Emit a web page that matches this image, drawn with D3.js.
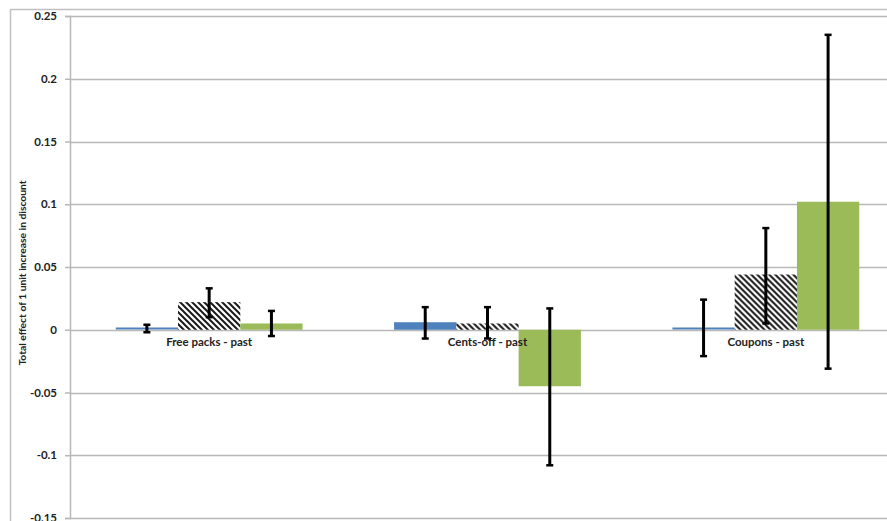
<!DOCTYPE html>
<html>
<head>
<meta charset="utf-8">
<script src="https://cdn.jsdelivr.net/npm/d3@7"></script>
<style>
  body { margin: 0; background: #fff; overflow: hidden; }
  svg { display: block; font-family: Lato, "Open Sans", sans-serif; }
</style>
</head>
<body>
<svg id="chart" width="887" height="521"></svg>
<script>
// Categories and series
const categories = ["Free packs - past", "Cents-off - past", "Coupons - past"];
const seriesNames = ["s1", "s2", "s3"];

// Point estimates per series (one value per category)
const s1Values = [0.001, 0.006, 0.001];
const s2Values = [0.022, 0.005, 0.044];
const s3Values = [0.005, -0.045, 0.102];

// Error bar bounds per series
const s1Low = [-0.002, -0.007, -0.021];
const s1High = [0.004, 0.018, 0.024];
const s2Low = [0.010, -0.007, 0.005];
const s2High = [0.033, 0.018, 0.081];
const s3Low = [-0.005, -0.108, -0.031];
const s3High = [0.015, 0.017, 0.235];

const yTicks = [0.25, 0.2, 0.15, 0.1, 0.05, 0, -0.05, -0.1, -0.15];
const yTickLabels = ["0.25", "0.2", "0.15", "0.1", "0.05", "0", "-0.05", "-0.1", "-0.15"];

const values = [s1Values, s2Values, s3Values];
const lows = [s1Low, s2Low, s3Low];
const highs = [s1High, s2High, s3High];

const svg = d3.select("#chart");
const W = 887, H = 521;
// the plot area runs past the right edge of the canvas
const plot = { left: 70, right: 905, top: 16, bottom: 518 };

// hatch pattern for the middle series
const defs = svg.append("defs");
const pat = defs.append("pattern")
  .attr("id", "hatch")
  .attr("patternUnits", "userSpaceOnUse")
  .attr("width", 6).attr("height", 6);
pat.append("rect").attr("width", 6).attr("height", 6).attr("fill", "#fff");
pat.append("path")
  .attr("d", "M-1,-1 L7,7 M-7,-1 L1,7 M5,-1 L13,7")
  .attr("stroke", "#1a1a1a").attr("stroke-width", 2);

// outer chart frame
svg.append("rect")
  .attr("x", 10.5).attr("y", 9.5)
  .attr("width", W + 10).attr("height", H + 10)
  .attr("fill", "none").attr("stroke", "#c0c0c0").attr("stroke-width", 1.5);

const y = d3.scaleLinear().domain([-0.15, 0.25]).range([plot.bottom, plot.top]);
const x0 = d3.scaleBand().domain(categories).range([plot.left, plot.right]).paddingInner(0).paddingOuter(0);
const x1 = d3.scaleBand().domain(seriesNames).range([0, x0.bandwidth()]).paddingOuter(0.735).paddingInner(0);

// gridlines
svg.append("g")
  .selectAll("line").data(yTicks).join("line")
  .attr("x1", plot.left).attr("x2", plot.right)
  .attr("y1", d => Math.round(y(d)) + 0.5).attr("y2", d => Math.round(y(d)) + 0.5)
  .attr("stroke", "#b8b8b8").attr("stroke-width", 1.5);

// y axis
const yAxis = d3.axisLeft(y)
  .tickValues(yTicks)
  .tickFormat((d, i) => yTickLabels[i])
  .tickSize(5).tickPadding(8);
const ga = svg.append("g").attr("transform", `translate(${plot.left},0)`).call(yAxis);
ga.select(".domain").attr("stroke", "#b8b8b8").attr("stroke-width", 1.5);
ga.selectAll(".tick line").attr("stroke", "#b8b8b8").attr("stroke-width", 1.5);
ga.selectAll(".tick text")
  .attr("font-size", 11.5).attr("font-weight", "bold").attr("fill", "#222")
  .attr("font-family", "Lato, sans-serif");

// y axis title
svg.append("text")
  .attr("transform", `translate(26,273) rotate(-90)`)
  .attr("text-anchor", "middle")
  .attr("font-size", 10.3).attr("font-weight", "bold").attr("fill", "#222")
  .text("Total effect of 1 unit increase in discount");

const fills = ["#4f81bd", "url(#hatch)", "#9bbb59"];

// bars
const groups = svg.append("g").selectAll("g").data(categories).join("g")
  .attr("transform", d => `translate(${x0(d)},0)`);

seriesNames.forEach((s, si) => {
  groups.append("rect")
    .attr("x", x1(s))
    .attr("width", x1.bandwidth())
    .attr("y", (d, ci) => {
      const v = values[si][ci];
      return Math.min(y(v), y(0)) - (Math.abs(y(v) - y(0)) < 2 ? 1 : 0);
    })
    .attr("height", (d, ci) => Math.max(2, Math.abs(y(values[si][ci]) - y(0))))
    .attr("fill", fills[si]);
});

// category labels
groups.append("text")
  .attr("x", x0.bandwidth() / 2)
  .attr("y", y(0) + 16)
  .attr("text-anchor", "middle")
  .attr("font-size", 11.5).attr("font-weight", "bold").attr("fill", "#222")
  .text(d => d);

// error bars
seriesNames.forEach((s, si) => {
  const cx = x1(s) + x1.bandwidth() / 2;
  const eb = groups.append("g");
  eb.append("line")
    .attr("x1", cx).attr("x2", cx)
    .attr("y1", (d, ci) => y(highs[si][ci]))
    .attr("y2", (d, ci) => y(lows[si][ci]))
    .attr("stroke", "#000").attr("stroke-width", 3);
  eb.append("line")
    .attr("x1", cx - 3.5).attr("x2", cx + 3.5)
    .attr("y1", (d, ci) => y(highs[si][ci])).attr("y2", (d, ci) => y(highs[si][ci]))
    .attr("stroke", "#000").attr("stroke-width", 2.5);
  eb.append("line")
    .attr("x1", cx - 3.5).attr("x2", cx + 3.5)
    .attr("y1", (d, ci) => y(lows[si][ci])).attr("y2", (d, ci) => y(lows[si][ci]))
    .attr("stroke", "#000").attr("stroke-width", 2.5);
});
</script>
</body>
</html>
